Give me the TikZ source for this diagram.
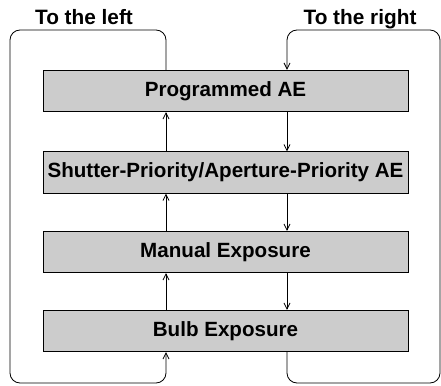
\documentclass[tikz,border=0pt]{standalone}
\usepackage{fontspec}
\setmainfont{Liberation Sans}
\usetikzlibrary{arrows.meta,positioning,calc}

\begin{document}
\begin{tikzpicture}[x=1pt,y=-1pt,
  mode/.style={draw=black, line width=0.9pt, fill=gray!40, minimum width=365pt,
    minimum height=41.5pt, inner sep=0pt, font=\fontsize{20.6}{24}\selectfont\bfseries},
  flow/.style={-{Straight Barb[length=6pt,width=6pt]}, line width=0.8pt},
  heading/.style={anchor=base, font=\fontsize{20.8}{24}\selectfont\bfseries}]
\useasboundingbox (0,0) rectangle (441,385);

% Exposure modes
\node[mode] (prog) at (225.5,91) {Programmed AE};
\node[mode] (prio) at (225.5,172.5) {Shutter-Priority/Aperture-Priority AE};
\node[mode] (manual) at (225.5,252) {Manual Exposure};
\node[mode] (bulb) at (225.5,331) {Bulb Exposure};

% Dial directions
\node[heading] (tleft) at (84,24.5) {To the left};
\node[heading] (tright) at (360,24.5) {To the right};

% Guide lines for the loops
\coordinate (lx) at (166,0);
\coordinate (rx) at (287,0);
\coordinate (top) at (0,30);
\coordinate (bot) at (0,383);
\coordinate (outl) at (10,0);
\coordinate (outr) at (440,0);

% Turning left
\draw[flow] (bulb.north -| lx) -- (manual.south -| lx);
\draw[flow] (manual.north -| lx) -- (prio.south -| lx);
\draw[flow] (prio.north -| lx) -- (prog.south -| lx);
\draw[flow, rounded corners=10pt] (prog.north -| lx) -- (lx |- top) -- (outl |- top)
  -- (outl |- bot) -- (lx |- bot) -- (bulb.south -| lx);

% Turning right
\draw[flow] (prog.south -| rx) -- (prio.north -| rx);
\draw[flow] (prio.south -| rx) -- (manual.north -| rx);
\draw[flow] (manual.south -| rx) -- (bulb.north -| rx);
\draw[flow, rounded corners=10pt] (bulb.south -| rx) -- (rx |- bot) -- (outr |- bot)
  -- (outr |- top) -- (rx |- top) -- (prog.north -| rx);
\end{tikzpicture}
\end{document}
